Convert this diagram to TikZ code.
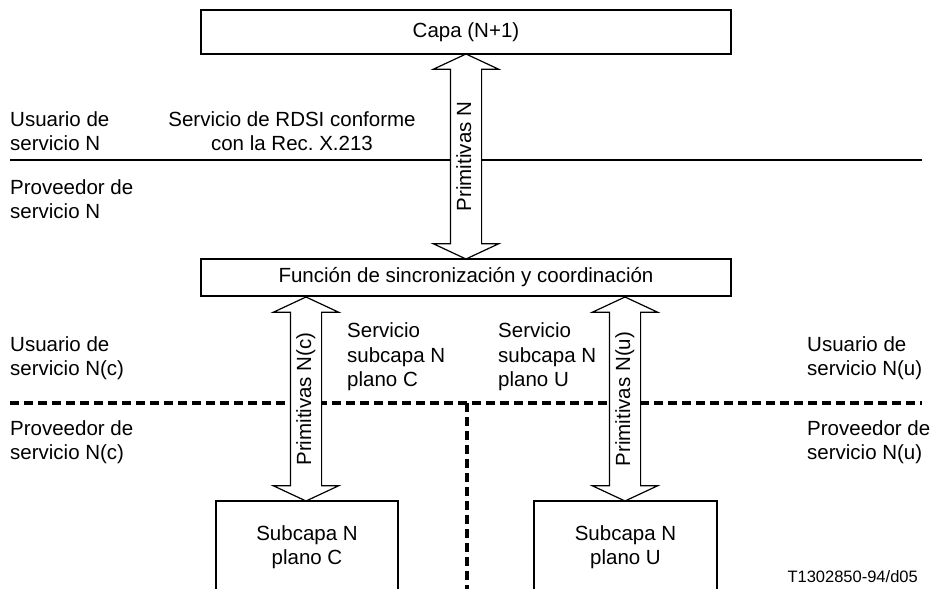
\documentclass[tikz,border=0pt]{standalone}
\usepackage{fontspec}
\setmainfont{Liberation Sans}
\usetikzlibrary{shapes.arrows}
\frenchspacing
\tikzset{
    caja/.style={rectangle, draw, line width=1.2pt, inner sep=0pt, align=center},
    flecha/.style={double arrow, draw, fill=white, line width=1.2pt, rotate=90,
        double arrow head extend=17pt, double arrow tip angle=130,
        inner xsep=2pt, inner ysep=5pt, text height=15pt, text depth=5pt, minimum width=0pt},
    rotulo/.style={inner sep=0pt, align=left, anchor=west},
    trazo/.style={line width=3.2pt, dash pattern=on 9pt off 5pt}
}
\begin{document}
\begin{tikzpicture}[x=1pt,y=-1pt,font=\fontsize{20.5}{24.5}\selectfont]
\useasboundingbox (0,0) rectangle (930,589);
\clip (0,0) rectangle (930,589);
% lineas de servicio
\coordinate (nI) at (10,160);
\coordinate (nD) at (922,160);
\coordinate (cI) at (10,403);
\coordinate (cD) at (922,403);
\coordinate (vA) at (467,403);
\coordinate (vB) at (467,600);
\draw[line width=2.8pt] (nI) -- (nD);
\draw[trazo] (cI) -- (cD);
\draw[trazo] (vA) -- (vB);
% cajas
\node[caja, minimum width=530pt, minimum height=44pt] (capa) at (466,32) {Capa (N+1)};
\node[caja, minimum width=530pt, minimum height=37pt] (func) at (466,277.5) {Función de sincronización y coordinación};
\node[caja, minimum width=182pt, minimum height=92pt] (subC) at (307,547) {Subcapa N\\plano C};
\node[caja, minimum width=183pt, minimum height=92pt] (subU) at (625.5,547) {Subcapa N\\plano U};
% flechas de primitivas
\node[flecha, minimum height=205pt] (pN) at (466,156.5) {Primitivas N};
\node[flecha, minimum height=204pt] (pC) at (306,399) {Primitivas N(c)};
\node[flecha, minimum height=204pt] (pU) at (625,399) {Primitivas N(u)};
% rotulos
\node[rotulo] (usN) at (10,131) {Usuario de\\servicio N};
\node[inner sep=0pt, align=center] (rdsi) at (292,131) {Servicio de RDSI conforme\\con la Rec. X.213};
\node[rotulo] (provN) at (10,199) {Proveedor de\\servicio N};
\node[rotulo] (usC) at (10,358) {Usuario de\\servicio N(c)};
\node[rotulo] (provC) at (10,442) {Proveedor de\\servicio N(c)};
\node[rotulo] (usU) at (807,358) {Usuario de\\servicio N(u)};
\node[rotulo] (provU) at (807,442) {Proveedor de\\servicio N(u)};
\node[rotulo] (servC) at (347,357) {Servicio\\subcapa N\\plano C};
\node[rotulo] (servU) at (498,357) {Servicio\\subcapa N\\plano U};
\node[inner sep=0pt, anchor=south east, font=\fontsize{16.5}{19}\selectfont] (ref) at (918,583) {T1302850-94/d05};
\end{tikzpicture}
\end{document}
